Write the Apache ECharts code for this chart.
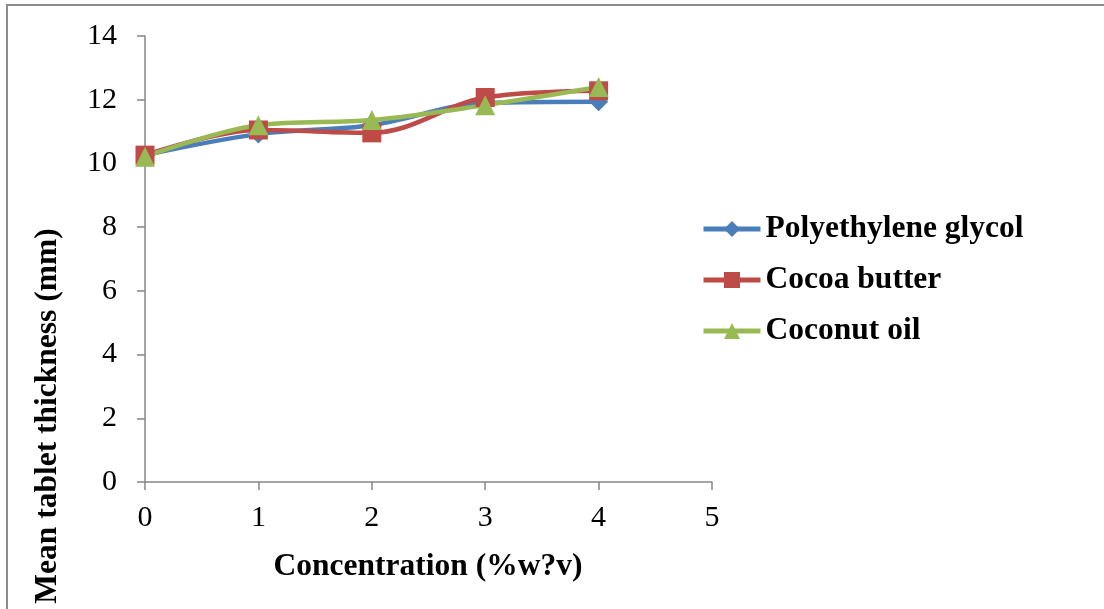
<!DOCTYPE html>
<html>
<head>
<meta charset="utf-8">
<script src="https://cdn.jsdelivr.net/npm/echarts@6/dist/echarts.min.js"></script>
<style>html,body{margin:0;padding:0;background:#fff}#c{width:1104px;height:609px}</style>
</head>
<body>
<div id="c"></div>
<script>
const concentrations = [0, 1, 2, 3, 4];
const peg = [10.26, 10.92, 11.2, 11.9, 11.94];
const cocoa = [10.26, 11.05, 10.96, 12.07, 12.28];
const coconut = [10.21, 11.2, 11.36, 11.83, 12.4];
const seriesNames = ['Polyethylene glycol', 'Cocoa butter', 'Coconut oil'];
const xTitle = 'Concentration (%w?v)';
const yTitle = 'Mean tablet thickness (mm)';

const font = 'Liberation Serif, Times New Roman, serif';
const pair = (arr) => concentrations.map((x, i) => [x, arr[i]]);
const chart = echarts.init(document.getElementById('c'));
const mk = (name, data, color, symbol, size) => ({
  name, type: 'line', data: pair(data), smooth: 0.35,
  symbol, symbolSize: size,
  lineStyle: { color, width: 4.5 },
  itemStyle: { color },
  z: 3
});
chart.setOption({
  animation: false,
  backgroundColor: '#fff',
  grid: { left: 145, right: 392, top: 36, bottom: 127 },
  xAxis: {
    type: 'value', min: 0, max: 5, interval: 1,
    axisLine: { show: true, lineStyle: { color: '#868686', width: 1.5 } },
    axisTick: { show: true, length: 8, lineStyle: { color: '#868686', width: 1.5 } },
    axisLabel: { fontFamily: font, fontSize: 30, color: '#000', margin: 21 },
    splitLine: { show: false }
  },
  yAxis: {
    type: 'value', min: 0, max: 14, interval: 2,
    axisLine: { show: true, lineStyle: { color: '#868686', width: 1.5 } },
    axisTick: { show: true, length: 8, lineStyle: { color: '#868686', width: 1.5 } },
    axisLabel: { fontFamily: font, fontSize: 30, color: '#000', margin: 28 },
    splitLine: { show: false }
  },
  legend: {
    orient: 'vertical', left: 701, top: 213, padding: 0,
    itemWidth: 57, itemHeight: 20, itemGap: 19,
    lineStyle: { width: 5 },
    textStyle: { fontFamily: font, fontSize: 31.5, fontWeight: 'bold', color: '#000', lineHeight: 32 },
    data: seriesNames
  },
  graphic: [
    { type: 'rect', shape: { x: 7, y: 5, width: 1200, height: 700 }, style: { fill: 'none', stroke: '#8c8c8c', lineWidth: 2 }, z: -1 },
    { type: 'text', x: 428, y: 567, style: { text: xTitle, font: 'bold 31.5px ' + font, fill: '#000', textAlign: 'center', textVerticalAlign: 'middle' } },
    { type: 'text', x: 48, y: 416, rotation: Math.PI / 2, style: { text: yTitle, font: 'bold 31.5px ' + font, fill: '#000', textAlign: 'center', textVerticalAlign: 'middle' } }
  ],
  series: [
    mk(seriesNames[0], peg, '#4a7ebb', 'diamond', 19),
    mk(seriesNames[1], cocoa, '#be4b48', 'rect', 19),
    mk(seriesNames[2], coconut, '#98b954', 'triangle', 20)
  ]
});
</script>
</body>
</html>
